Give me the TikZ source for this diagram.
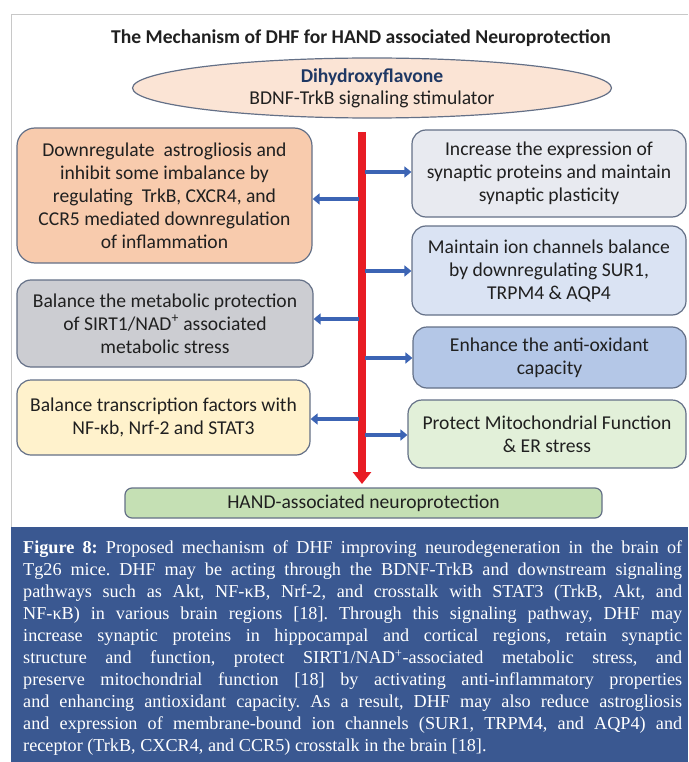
\documentclass[tikz,border=0pt]{standalone}
\usepackage{fontspec}
\setmainfont{Carlito}
\newfontfamily\capfont{Liberation Serif}
\usetikzlibrary{shapes.geometric,arrows.meta}
\definecolor{peach}{RGB}{248,203,173}
\definecolor{ellfill}{RGB}{251,228,213}
\definecolor{grayfill}{RGB}{204,205,210}
\definecolor{yellowfill}{RGB}{255,242,204}
\definecolor{rone}{RGB}{232,234,240}
\definecolor{rtwo}{RGB}{218,227,243}
\definecolor{rthree}{RGB}{180,199,231}
\definecolor{rfour}{RGB}{226,240,217}
\definecolor{bottomfill}{RGB}{197,224,180}
\definecolor{boxborder}{RGB}{100,112,135}
\definecolor{arrowblue}{RGB}{60,100,180}
\definecolor{redline}{RGB}{232,28,36}
\definecolor{capblue}{RGB}{58,88,145}
\definecolor{framegray}{RGB}{200,200,200}
\definecolor{textdark}{RGB}{32,32,32}
\definecolor{navy}{RGB}{31,56,100}
\begin{document}
\frenchspacing
\begin{tikzpicture}[x=1pt,y=-1pt,
  box/.style={draw=boxborder, line width=1.2pt, rounded corners=14pt, inner sep=0pt,
    align=center, font=\fontsize{19.6}{23}\selectfont, text=textdark},
  barrow/.style={draw=arrowblue, line width=3.5pt, -{Triangle[length=7pt,width=11pt]}},
  rarrow/.style={draw=redline, line width=8pt, -{Triangle[length=12pt,width=18pt]}},
  capline/.style={anchor=base west, inner sep=0pt, text=white, font=\capfont\fontsize{18.2}{22}\selectfont}]
\useasboundingbox (0,0) rectangle (688,762);
% frame and caption background
\draw[framegray, line width=1pt] (688,15) -- (11,15) -- (11,527);
\fill[capblue] (11,527) rectangle (688,762);
% title
\node[anchor=base, inner sep=0pt, text=textdark, font=\fontsize{19.6}{23}\selectfont\bfseries] (title) at (361,44)
  {The Mechanism of DHF for HAND associated Neuroprotection};
% ellipse
\node[ellipse, draw=boxborder, line width=1.2pt, fill=ellfill, minimum width=479pt, minimum height=60pt,
  inner sep=0pt, align=center, font=\fontsize{19.6}{22}\selectfont, text=textdark] (E) at (372,88)
  {\textcolor{navy}{\bfseries Dihydroxyflavone}\\BDNF-TrkB signaling stimulator};
% left boxes
\node[box, fill=peach, rounded corners=18pt, minimum width=295pt, minimum height=135pt] (L1) at (164.5,195.5)
  {Downregulate\ \ astrogliosis and\\inhibit some imbalance by\\regulating\ \ TrkB, CXCR4, and\\CCR5 mediated downregulation\\of inflammation};
\node[box, fill=grayfill, minimum width=296pt, minimum height=87pt] (L2) at (165,323.5)
  {Balance the metabolic protection\\of SIRT1/NAD\textsuperscript{+} associated\\metabolic stress};
\node[box, fill=yellowfill, minimum width=293pt, minimum height=75pt] (L3) at (163.5,417.5)
  {Balance transcription factors with\\NF-κb, Nrf-2 and STAT3};
% right boxes
\node[box, fill=rone, minimum width=274pt, minimum height=87pt] (R1) at (549,173.5)
  {Increase the expression of\\synaptic proteins and maintain\\synaptic plasticity};
\node[box, fill=rtwo, minimum width=274pt, minimum height=89pt] (R2) at (549,270.5)
  {Maintain ion channels balance\\by downregulating SUR1,\\TRPM4 \& AQP4};
\node[box, fill=rthree, minimum width=273pt, minimum height=61pt] (R3) at (549.5,357.5)
  {Enhance the anti-oxidant\\capacity};
\node[box, fill=rfour, minimum width=278pt, minimum height=68pt] (R4) at (547,434)
  {Protect Mitochondrial Function\\\& ER stress};
% bottom box
\node[box, fill=bottomfill, rounded corners=7pt, minimum width=477pt, minimum height=30pt] (B) at (363.5,503)
  {HAND-associated neuroprotection};
% red trunk
\coordinate (rtop) at (362,132);
\coordinate (rbot) at (362,484);
\draw[rarrow] (rtop) -- (rbot);
% blue arrows to the left
\coordinate (a1) at (359,199);
\coordinate (a2) at (359,319);
\coordinate (a3) at (359,419);
\draw[barrow] (a1) -- (L1.east |- a1);
\draw[barrow] (a2) -- (L2.east |- a2);
\draw[barrow] (a3) -- (L3.east |- a3);
% blue arrows to the right
\coordinate (b1) at (365,172);
\coordinate (b2) at (365,271);
\coordinate (b3) at (365,358);
\coordinate (b4) at (365,435);
\draw[barrow] (b1) -- (R1.west |- b1);
\draw[barrow] (b2) -- (R2.west |- b2);
\draw[barrow] (b3) -- (R3.west |- b3);
\draw[barrow] (b4) -- (R4.west |- b4);
% caption
\node[capline] (c1) at (23,553) {\makebox[659pt][s]{\textbf{Figure 8:} Proposed mechanism of DHF improving neurodegeneration in the brain of}};
\node[capline] (c2) at (23,575.1) {\makebox[659pt][s]{Tg26 mice. DHF may be acting through the BDNF-TrkB and downstream signaling}};
\node[capline] (c3) at (23,597.2) {\makebox[659pt][s]{pathways such as Akt, NF-κB, Nrf-2, and crosstalk with STAT3 (TrkB, Akt, and}};
\node[capline] (c4) at (23,619.3) {\makebox[659pt][s]{NF-κB) in various brain regions [18]. Through this signaling pathway, DHF may}};
\node[capline] (c5) at (23,641.4) {\makebox[659pt][s]{increase synaptic proteins in hippocampal and cortical regions, retain synaptic}};
\node[capline] (c6) at (23,663.5) {\makebox[659pt][s]{structure and function, protect SIRT1/NAD\textsuperscript{+}-associated metabolic stress, and}};
\node[capline] (c7) at (23,685.6) {\makebox[659pt][s]{preserve mitochondrial function [18] by activating anti-inflammatory properties}};
\node[capline] (c8) at (23,707.7) {\makebox[659pt][s]{and enhancing antioxidant capacity. As a result, DHF may also reduce astrogliosis}};
\node[capline] (c9) at (23,729.8) {\makebox[659pt][s]{and expression of membrane-bound ion channels (SUR1, TRPM4, and AQP4) and}};
\node[capline] (c10) at (23,751.9) {receptor (TrkB, CXCR4, and CCR5) crosstalk in the brain [18].};
\end{tikzpicture}
\end{document}
